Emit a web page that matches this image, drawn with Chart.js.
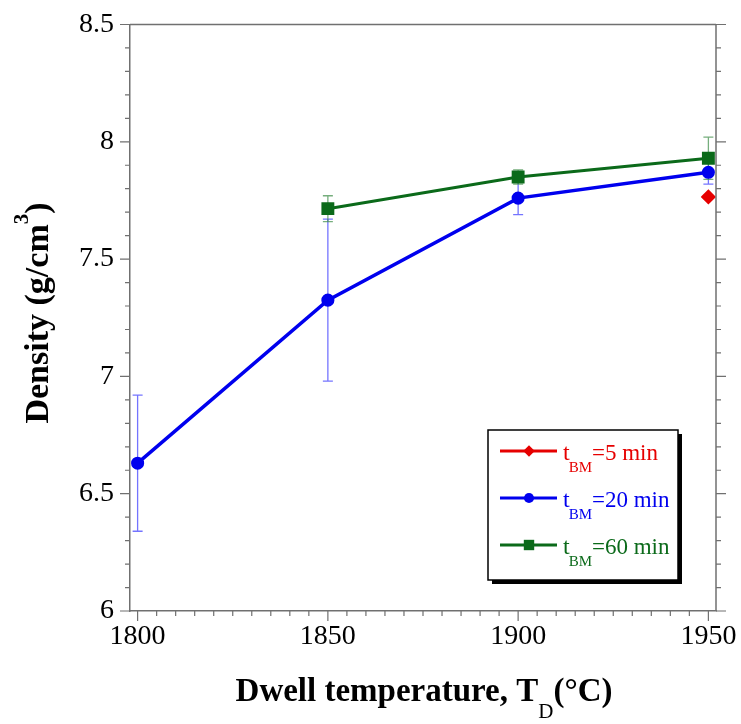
<!DOCTYPE html>
<html>
<head>
<meta charset="utf-8">
<script src="https://cdn.jsdelivr.net/npm/chart.js@4/dist/chart.umd.min.js"></script>
<style>
html, body { margin: 0; padding: 0; background: #fff; }
#wrap { width: 741px; height: 724px; }
</style>
</head>
<body>
<div id="wrap"><canvas id="densityChart"></canvas></div>
<script>
// dwell temperatures (x) and densities (y) per ball-milling time
const temps = [1800, 1850, 1900, 1950];
const density5 = [null, null, null, 7.765];
const density20 = [6.63, 7.325, 7.76, 7.87];
const err20 = [0.29, 0.345, 0.07, 0.05];
const density60 = [null, 7.715, 7.85, 7.93];
const err60 = [0, 0.055, 0.03, 0.09];
const seriesNames = ['=5 min', '=20 min', '=60 min'];

const RED = '#e60000';
const BLUE = '#0000ee';
const GREEN = '#0b6a1a';
const AXIS = '#707070';
const SERIF = "'Liberation Serif', 'Times New Roman', serif";

function points(vals) {
    return temps.map((t, i) => ({ x: t, y: vals[i] }));
}

function isMajor(v, step) {
    return Math.abs(v / step - Math.round(v / step)) < 1e-6;
}

// error bars, drawn through the scales
const errorBars = {
    id: 'errorBars',
    beforeDatasetsDraw(chart) {
        const { ctx, scales: { x, y } } = chart;
        chart.data.datasets.forEach(ds => {
            if (!ds.errors) return;
            ctx.save();
            ctx.strokeStyle = ds.errorColor;
            ctx.lineWidth = 1.3;
            ds.data.forEach((p, i) => {
                const e = ds.errors[i];
                if (p.y == null || !e) return;
                const px = x.getPixelForValue(p.x);
                const top = y.getPixelForValue(p.y + e);
                const bot = y.getPixelForValue(p.y - e);
                ctx.beginPath();
                ctx.moveTo(px, top); ctx.lineTo(px, bot);
                ctx.moveTo(px - 5, top); ctx.lineTo(px + 5, top);
                ctx.moveTo(px - 5, bot); ctx.lineTo(px + 5, bot);
                ctx.stroke();
            });
            ctx.restore();
        });
    }
};

// frame, minor/major tick marks, axis titles and boxed legend
const decorations = {
    id: 'decorations',
    afterDraw(chart) {
        const { ctx, chartArea: a, scales: { x, y } } = chart;
        ctx.save();
        ctx.strokeStyle = AXIS;
        ctx.lineWidth = 1.5;
        ctx.beginPath();
        ctx.moveTo(a.left, a.top); ctx.lineTo(a.right, a.top);
        ctx.moveTo(a.right, a.top); ctx.lineTo(a.right, a.bottom);
        ctx.stroke();

        ctx.lineWidth = 1.2;
        ctx.beginPath();
        y.ticks.forEach(t => {
            const py = y.getPixelForValue(t.value);
            const len = isMajor(t.value, 0.5) ? 10 : 5;
            ctx.moveTo(a.left, py); ctx.lineTo(a.left - len, py);
            ctx.moveTo(a.right, py); ctx.lineTo(a.right + len, py);
        });
        x.ticks.forEach(t => {
            const px = x.getPixelForValue(t.value);
            const len = isMajor(t.value, 50) ? 10 : 5;
            ctx.moveTo(px, a.bottom); ctx.lineTo(px, a.bottom + len);
        });
        ctx.stroke();

        // x title with subscript
        ctx.fillStyle = '#000';
        ctx.textBaseline = 'alphabetic';
        ctx.textAlign = 'left';
        const bold = 'bold 33px ' + SERIF;
        const sub = '21px ' + SERIF;
        ctx.font = bold;
        const w1 = ctx.measureText('Dwell temperature, T').width;
        const w3 = ctx.measureText('(°C)').width;
        ctx.font = sub;
        const w2 = ctx.measureText('D').width;
        let sx = 424 - (w1 + w2 + w3) / 2;
        ctx.font = bold;
        ctx.fillText('Dwell temperature, T', sx, 701);
        ctx.font = sub;
        ctx.fillText('D', sx + w1, 718);
        ctx.font = bold;
        ctx.fillText('(°C)', sx + w1 + w2, 701);

        // y title with superscript
        const yBold = 'bold 34px ' + SERIF;
        const ySup = 'bold 21px ' + SERIF;
        ctx.save();
        ctx.translate(48, 313);
        ctx.rotate(-Math.PI / 2);
        ctx.font = yBold;
        const v1 = ctx.measureText('Density (g/cm').width;
        const v3 = ctx.measureText(')').width;
        ctx.font = ySup;
        const v2 = ctx.measureText('3').width;
        let sy = -(v1 + v2 + v3) / 2;
        ctx.font = yBold;
        ctx.fillText('Density (g/cm', sy, 0);
        ctx.font = ySup;
        ctx.fillText('3', sy + v1, -20);
        ctx.font = yBold;
        ctx.fillText(')', sy + v1 + v2, 0);
        ctx.restore();

        // legend box with shadow
        const bx = 488, by = 430, bw = 190, bh = 150;
        ctx.fillStyle = '#000';
        ctx.fillRect(bx + 4, by + 4, bw, bh);
        ctx.fillStyle = '#fff';
        ctx.fillRect(bx, by, bw, bh);
        ctx.strokeStyle = '#000';
        ctx.lineWidth = 1.5;
        ctx.strokeRect(bx, by, bw, bh);

        chart.data.datasets.forEach((ds, i) => {
            const ry = 451 + i * 47;
            ctx.strokeStyle = ds.borderColor;
            ctx.fillStyle = ds.borderColor;
            ctx.lineWidth = 3;
            ctx.beginPath();
            ctx.moveTo(500, ry); ctx.lineTo(557, ry);
            ctx.stroke();
            Chart.helpers.drawPoint(ctx, { pointStyle: ds.pointStyle, radius: ds.pointRadius * 1.05, rotation: 0, borderWidth: 0 }, 529, ry);
            ctx.textAlign = 'left';
            ctx.font = '24px ' + SERIF;
            ctx.fillText('t', 563, ry + 9);
            const tw = ctx.measureText('t').width;
            ctx.font = '15px ' + SERIF;
            ctx.fillText('BM', 563 + tw - 1, ry + 21);
            const bmw = ctx.measureText('BM').width;
            ctx.font = '23px ' + SERIF;
            ctx.fillText(seriesNames[i], 563 + tw + bmw - 1, ry + 9);
        });
        ctx.restore();
    }
};

const data = {
    datasets: [
        {
            label: 't_BM=5 min',
            data: points(density5),
            borderColor: RED,
            backgroundColor: RED,
            pointStyle: 'rectRot',
            pointRadius: 5.5,
            borderWidth: 3,
            showLine: true
        },
        {
            label: 't_BM=20 min',
            data: points(density20),
            errors: err20,
            errorColor: 'rgba(70, 70, 255, 0.75)',
            borderColor: BLUE,
            backgroundColor: BLUE,
            pointStyle: 'circle',
            pointRadius: 4.8,
            borderWidth: 3.5,
            showLine: true
        },
        {
            label: 't_BM=60 min',
            data: points(density60),
            errors: err60,
            errorColor: 'rgba(60, 140, 70, 0.7)',
            borderColor: GREEN,
            backgroundColor: GREEN,
            pointStyle: 'rect',
            pointRadius: 7,
            borderWidth: 3,
            showLine: true
        }
    ]
};

const config = {
    type: 'scatter',
    data: data,
    options: {
        responsive: true,
        maintainAspectRatio: false,
        animation: false,
        layout: { padding: { top: 24.5, right: 25, left: 0, bottom: 0 } },
        plugins: {
            legend: { display: false },
            tooltip: { enabled: false }
        },
        scales: {
            x: {
                type: 'linear',
                min: 1798,
                max: 1952,
                afterFit: s => {
                    s.height = 113;
                    s.paddingLeft = 0;
                    s.paddingRight = 0;
                },
                border: { color: AXIS, width: 1.5 },
                grid: { drawOnChartArea: false, drawTicks: false },
                ticks: {
                    stepSize: 5,
                    includeBounds: false,
                    autoSkip: false,
                    maxRotation: 0,
                    padding: 9,
                    color: '#000',
                    font: { family: SERIF, size: 28 },
                    callback: v => isMajor(v, 50) ? String(v) : ''
                }
            },
            y: {
                min: 6,
                max: 8.5,
                afterFit: s => {
                    s.width = 130;
                    s.paddingTop = 0;
                    s.paddingBottom = 0;
                },
                border: { color: AXIS, width: 1.5 },
                grid: { drawOnChartArea: false, drawTicks: false },
                ticks: {
                    stepSize: 0.1,
                    includeBounds: false,
                    autoSkip: false,
                    padding: 16,
                    color: '#000',
                    font: { family: SERIF, size: 28 },
                    callback: v => isMajor(v, 0.5) ? String(+v.toFixed(1)) : ''
                }
            }
        }
    },
    plugins: [errorBars, decorations]
};

new Chart(document.getElementById('densityChart'), config);
</script>
</body>
</html>
